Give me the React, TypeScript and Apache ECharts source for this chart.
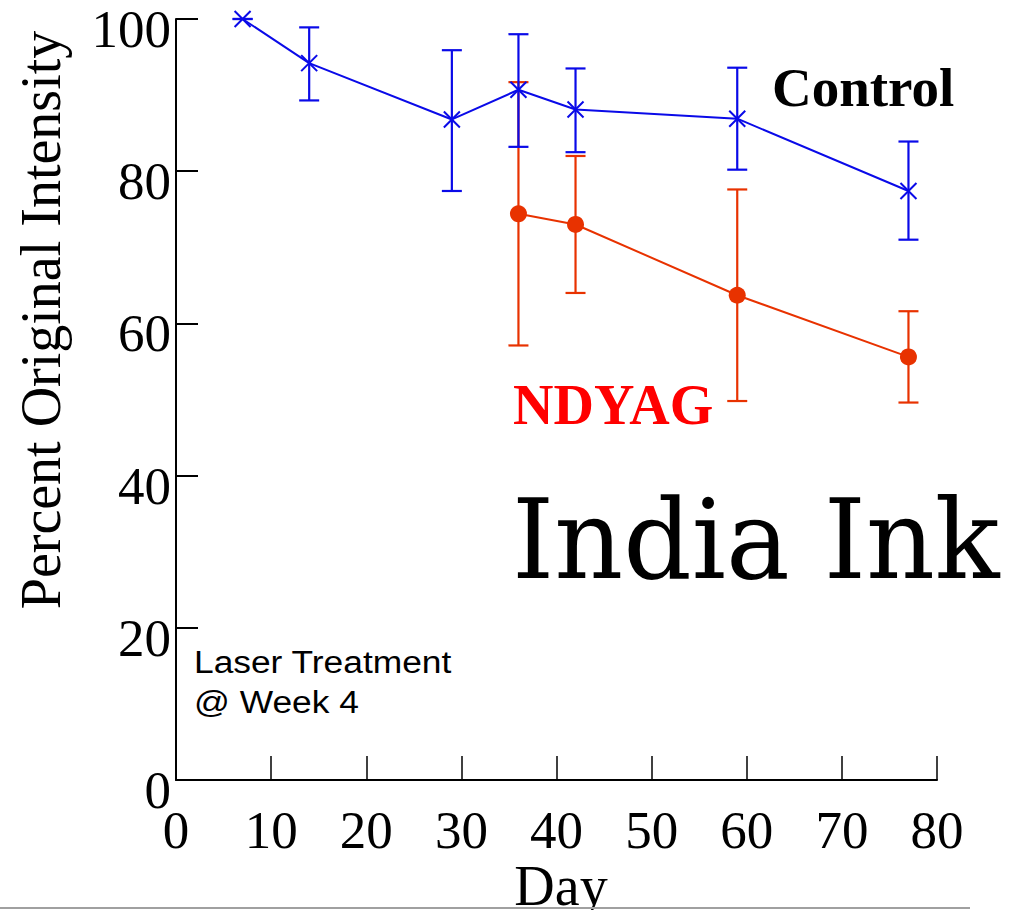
import React, { useEffect, useRef } from "react";
import * as echarts from "echarts";

const xTicks = [0, 10, 20, 30, 40, 50, 60, 70, 80];
const yTicks = [0, 20, 40, 60, 80, 100];

const controlDays = [7, 14, 29, 36, 42, 59, 77];
const controlMean = [100, 94.2, 86.8, 90.7, 88.1, 86.9, 77.4];
const controlUpper = [100, 98.9, 95.9, 98.0, 93.5, 93.6, 83.9];
const controlLower = [100, 89.3, 77.4, 83.2, 82.5, 80.2, 71.0];

const ndyagDays = [36, 42, 59, 77];
const ndyagMean = [74.4, 73.0, 63.7, 55.6];
const ndyagUpper = [91.7, 82.0, 77.6, 61.6];
const ndyagLower = [57.1, 64.0, 49.8, 49.6];

const BLUE = "#0a0ae8";
const RED = "#e83200";
const SERIF = "'Liberation Serif', 'Times New Roman', serif";
const SANS = "'Liberation Sans', Arial, sans-serif";

function errorBarSeries(days: number[], lo: number[], hi: number[], color: string) {
  return {
    type: "custom",
    clip: false,
    data: days.map((d, i) => [d, lo[i], hi[i]]),
    encode: { x: 0, y: [1, 2] },
    renderItem: (_params: any, api: any) => {
      const x = api.value(0);
      const pLo = api.coord([x, api.value(1)]);
      const pHi = api.coord([x, api.value(2)]);
      const w = 10;
      const style = { stroke: color, lineWidth: 2.2 };
      return {
        type: "group",
        children: [
          { type: "line", shape: { x1: pHi[0], y1: pHi[1], x2: pLo[0], y2: pLo[1] }, style },
          { type: "line", shape: { x1: pHi[0] - w, y1: pHi[1], x2: pHi[0] + w, y2: pHi[1] }, style },
          { type: "line", shape: { x1: pLo[0] - w, y1: pLo[1], x2: pLo[0] + w, y2: pLo[1] }, style },
        ],
      };
    },
  };
}

export default function App() {
  const ref = useRef<HTMLDivElement>(null);
  useEffect(() => {
    document.body.style.margin = "0";
    if (!ref.current) return;
    const chart = echarts.init(ref.current, undefined, { renderer: "svg" });
    chart.setOption({
      animation: false,
      backgroundColor: "#ffffff",
      grid: {
        left: 176,
        right: 86,
        top: 19,
        bottom: 130,
        containLabel: false,
        outerBoundsMode: "none",
      },
      xAxis: {
        type: "value",
        min: xTicks[0],
        max: xTicks[xTicks.length - 1],
        interval: 10,
        axisLine: { show: true, onZero: false, lineStyle: { color: "#000", width: 2 } },
        axisTick: { show: true, inside: true, length: 24, lineStyle: { color: "#000", width: 1.5 } },
        splitLine: { show: false },
        axisLabel: {
          color: "#000",
          fontFamily: SERIF,
          fontSize: 53,
          margin: 50,
          verticalAlign: "middle",
          hideOverlap: false,
        },
      },
      yAxis: {
        type: "value",
        min: yTicks[0],
        max: yTicks[yTicks.length - 1],
        interval: 20,
        axisLine: { show: true, onZero: false, lineStyle: { color: "#000", width: 2 } },
        axisTick: { show: true, inside: true, length: 22, lineStyle: { color: "#000", width: 2 } },
        splitLine: { show: false },
        axisLabel: {
          color: "#000",
          fontFamily: SERIF,
          fontSize: 53,
          margin: 5,
          verticalAlign: "top",
          lineHeight: 20,
          hideOverlap: false,
        },
      },
      series: [
        errorBarSeries(ndyagDays, ndyagLower, ndyagUpper, RED),
        {
          type: "line",
          clip: false,
          data: ndyagDays.map((d, i) => [d, ndyagMean[i]]),
          symbol: "circle",
          symbolSize: 17,
          lineStyle: { color: RED, width: 2 },
          itemStyle: { color: RED },
        },
        errorBarSeries(controlDays, controlLower, controlUpper, BLUE),
        {
          type: "line",
          clip: false,
          data: controlDays.map((d, i) => [d, controlMean[i]]),
          symbol: "path://M0,0L10,10M10,0L0,10",
          symbolSize: 16,
          lineStyle: { color: BLUE, width: 2 },
          itemStyle: { color: BLUE, borderColor: BLUE, borderWidth: 2 },
        },
      ],
      graphic: [
        {
          type: "text",
          x: 41,
          y: 320,
          rotation: Math.PI / 2,
          style: {
            text: "Percent Original Intensity",
            fontFamily: SERIF,
            fontSize: 56,
            fill: "#000",
            align: "center",
            verticalAlign: "middle",
          },
        },
        {
          type: "text",
          x: 561,
          y: 886,
          style: {
            text: "Day",
            fontFamily: SERIF,
            fontSize: 56,
            fill: "#000",
            align: "center",
            verticalAlign: "middle",
          },
        },
        {
          type: "text",
          x: 772,
          y: 87,
          style: {
            text: "Control",
            fontFamily: SERIF,
            fontWeight: "bold",
            fontSize: 55,
            fill: "#000",
            align: "left",
            verticalAlign: "middle",
          },
        },
        {
          type: "text",
          x: 513,
          y: 405,
          style: {
            text: "NDYAG",
            fontFamily: SERIF,
            fontWeight: "bold",
            fontSize: 56,
            fill: "#ff0000",
            align: "left",
            verticalAlign: "middle",
          },
        },
        {
          type: "text",
          x: 512,
          y: 540,
          scaleY: 1.03,
          style: {
            text: "India Ink",
            fontFamily: "'DejaVu Serif', serif",
            fontSize: 107,
            fill: "#000",
            align: "left",
            verticalAlign: "middle",
          },
        },
        {
          type: "text",
          x: 194,
          y: 662,
          scaleX: 1.14,
          style: {
            text: "Laser Treatment",
            fontFamily: SANS,
            fontSize: 31,
            fill: "#000",
            align: "left",
            verticalAlign: "middle",
          },
        },
        {
          type: "text",
          x: 194,
          y: 702,
          scaleX: 1.14,
          style: {
            text: "@ Week 4",
            fontFamily: SANS,
            fontSize: 31,
            fill: "#000",
            align: "left",
            verticalAlign: "middle",
          },
        },
        {
          type: "line",
          shape: { x1: 0, y1: 908, x2: 970, y2: 908 },
          style: { stroke: "#a0a0a0", lineWidth: 2 },
        },
      ],
    });
    return () => chart.dispose();
  }, []);
  return <div ref={ref} style={{ width: 1023, height: 910 }} />;
}
